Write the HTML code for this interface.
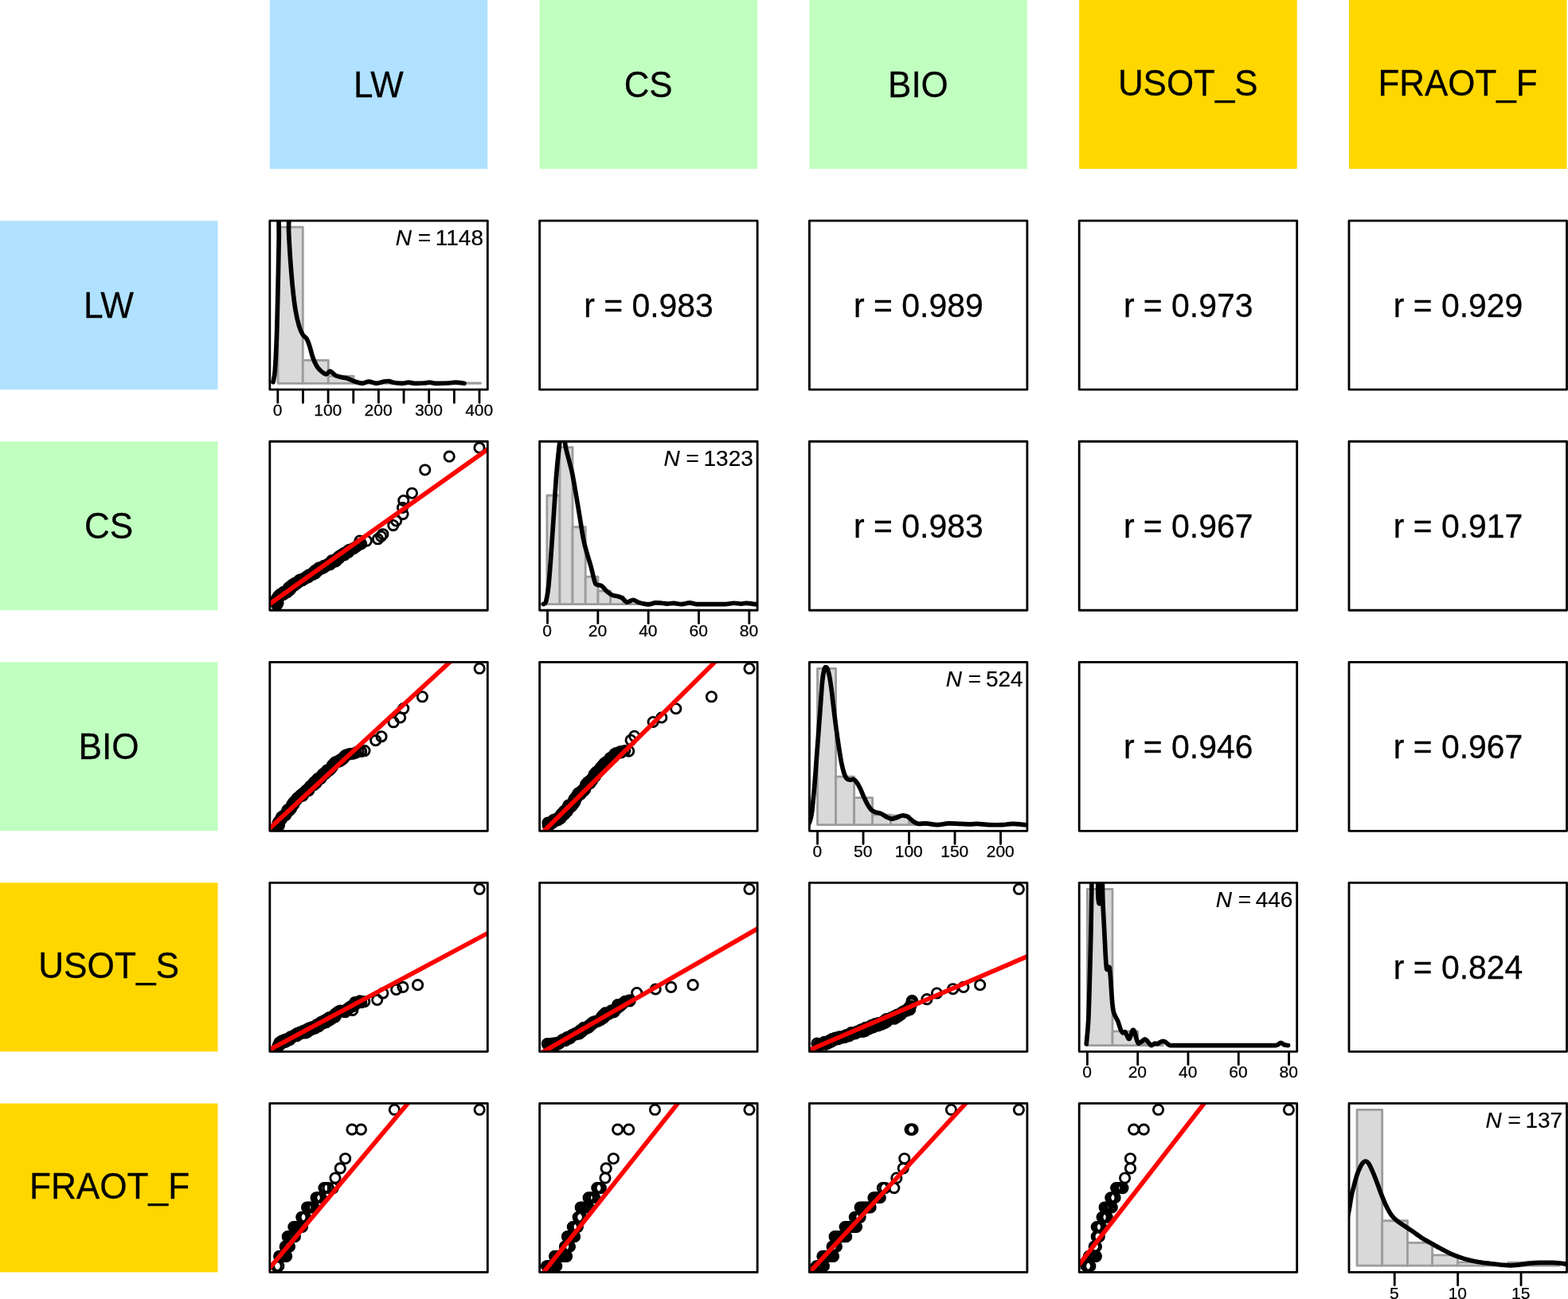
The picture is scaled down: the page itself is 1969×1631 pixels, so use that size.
<!DOCTYPE html>
<html lang="en"><head><meta charset="utf-8"><title>Scatterplot matrix</title>
<style>html,body{margin:0;padding:0;background:#fff}svg{display:block}text{font-family:"Liberation Sans",sans-serif;fill:#000;stroke:#000;stroke-width:.3px}.c circle{fill:none;stroke:#000;stroke-width:2.84}.b{fill:none;stroke:#000;stroke-width:2.84;stroke-linejoin:round}.h rect{fill:#D9D9D9;stroke:#9C9C9C;stroke-width:2.84;stroke-linejoin:round}.d{fill:none;stroke:#000;stroke-width:5.68;stroke-linejoin:round;stroke-linecap:round}.r{stroke:#f00;stroke-width:5.68}.t line{stroke:#000;stroke-width:2.84;stroke-linecap:round}.t text{font-size:21px;text-anchor:middle;stroke-width:.25px}.n{font-size:28px;text-anchor:end;stroke-width:.2px}.v{font-size:42px;text-anchor:middle}.l{font-size:46px;text-anchor:middle}</style>
</head><body>
<svg width="1969" height="1631" viewBox="0 0 1969 1631" role="img" aria-label="Scatterplot matrix of LW, CS, BIO, USOT_S and FRAOT_F">
<rect width="1969" height="1631" fill="#fff"/>
<rect x="338.8" y="0" width="273.5" height="212" fill="#B0E2FF"/>
<text class="l" transform="translate(475.35,121.8) scale(.955,1)">LW</text>
<rect x="0" y="277.2" width="273.5" height="212" fill="#B0E2FF"/>
<text class="l" transform="translate(136.55,399) scale(.96,1)">LW</text>
<rect x="677.6" y="0" width="273.5" height="212" fill="#C1FFC1"/>
<text class="l" transform="translate(814.15,121.8) scale(.955,1)">CS</text>
<rect x="0" y="554.25" width="273.5" height="212" fill="#C1FFC1"/>
<text class="l" transform="translate(136.55,676.05) scale(.96,1)">CS</text>
<rect x="1016.4" y="0" width="273.5" height="212" fill="#C1FFC1"/>
<text class="l" transform="translate(1152.95,121.8) scale(.955,1)">BIO</text>
<rect x="0" y="831.3" width="273.5" height="212" fill="#C1FFC1"/>
<text class="l" transform="translate(136.55,953.1) scale(.96,1)">BIO</text>
<rect x="1355.2" y="0" width="273.5" height="212" fill="#FFD700"/>
<text class="l" transform="translate(1491.75,120.1) scale(.955,1)">USOT_S</text>
<rect x="0" y="1108.35" width="273.5" height="212" fill="#FFD700"/>
<text class="l" transform="translate(136.55,1228.45) scale(.96,1)">USOT_S</text>
<rect x="1694" y="0" width="273.5" height="212" fill="#FFD700"/>
<text class="l" transform="translate(1830.55,120.1) scale(.955,1)">FRAOT_F</text>
<rect x="0" y="1385.4" width="273.5" height="212" fill="#FFD700"/>
<text class="l" transform="translate(137.55,1504.9) scale(.96,1)">FRAOT_F</text>
<text class="v" transform="translate(814.55,397.5) scale(.974,1)">r = 0.983</text>
<text class="v" transform="translate(1153.35,397.5) scale(.974,1)">r = 0.989</text>
<text class="v" transform="translate(1492.15,397.5) scale(.974,1)">r = 0.973</text>
<text class="v" transform="translate(1830.95,397.5) scale(.974,1)">r = 0.929</text>
<text class="v" transform="translate(1153.35,674.55) scale(.974,1)">r = 0.983</text>
<text class="v" transform="translate(1492.15,674.55) scale(.974,1)">r = 0.967</text>
<text class="v" transform="translate(1830.95,674.55) scale(.974,1)">r = 0.917</text>
<text class="v" transform="translate(1492.15,951.6) scale(.974,1)">r = 0.946</text>
<text class="v" transform="translate(1830.95,951.6) scale(.974,1)">r = 0.967</text>
<text class="v" transform="translate(1830.95,1228.65) scale(.974,1)">r = 0.824</text>
<svg x="338.8" y="554.25" width="273.5" height="212" viewBox="338.8 554.25 273.5 212">
<g class="c">
<circle cx="601.97" cy="562.22" r="6.15"/><circle cx="564.18" cy="573.19" r="6.15"/><circle cx="533.71" cy="589.95" r="6.15"/><circle cx="517.4" cy="619.2" r="6.15"/><circle cx="506.74" cy="628.49" r="6.15"/><circle cx="505.52" cy="637.48" r="6.15"/><circle cx="505.98" cy="645.56" r="6.15"/><circle cx="497.6" cy="653.94" r="6.15"/><circle cx="493.79" cy="659.58" r="6.15"/><circle cx="480.84" cy="670.7" r="6.15"/><circle cx="478.55" cy="673.44" r="6.15"/><circle cx="474.44" cy="676.79" r="6.15"/><circle cx="460.27" cy="679.08" r="6.15"/><circle cx="451.89" cy="679.08" r="6.15"/><circle cx="347.67" cy="759.46" r="6.15"/><circle cx="347.13" cy="758.12" r="6.15"/><circle cx="349.02" cy="756.94" r="6.15"/><circle cx="347.02" cy="755.51" r="6.15"/><circle cx="348.8" cy="754.33" r="6.15"/><circle cx="348.33" cy="752.97" r="6.15"/><circle cx="347.37" cy="751.56" r="6.15"/><circle cx="349.63" cy="750.7" r="6.15"/><circle cx="349.36" cy="748.59" r="6.15"/><circle cx="351.28" cy="748.68" r="6.15"/><circle cx="351.28" cy="746.83" r="6.15"/><circle cx="352.25" cy="745.97" r="6.15"/><circle cx="354.18" cy="746.01" r="6.15"/><circle cx="356.07" cy="746.47" r="6.15"/><circle cx="355.72" cy="743.65" r="6.15"/><circle cx="356.99" cy="743.21" r="6.15"/><circle cx="358.87" cy="743.57" r="6.15"/><circle cx="360.6" cy="743.6" r="6.15"/><circle cx="360.72" cy="741.74" r="6.15"/><circle cx="361.28" cy="740.4" r="6.15"/><circle cx="363.63" cy="741.14" r="6.15"/><circle cx="362.43" cy="737.75" r="6.15"/><circle cx="365.32" cy="739.12" r="6.15"/><circle cx="364.97" cy="736.72" r="6.15"/><circle cx="365.62" cy="735.48" r="6.15"/><circle cx="366.54" cy="734.56" r="6.15"/><circle cx="367.98" cy="734.23" r="6.15"/><circle cx="369.98" cy="734.92" r="6.15"/><circle cx="370" cy="732.29" r="6.15"/><circle cx="371.84" cy="732.91" r="6.15"/><circle cx="373.07" cy="732.46" r="6.15"/><circle cx="373.74" cy="730.98" r="6.15"/><circle cx="375.18" cy="730.9" r="6.15"/><circle cx="375.46" cy="728.74" r="6.15"/><circle cx="376.59" cy="728.09" r="6.15"/><circle cx="377.98" cy="727.91" r="6.15"/><circle cx="379.95" cy="728.77" r="6.15"/><circle cx="380.62" cy="727.34" r="6.15"/><circle cx="381.49" cy="726.3" r="6.15"/><circle cx="383.12" cy="726.42" r="6.15"/><circle cx="383.95" cy="725.32" r="6.15"/><circle cx="384.75" cy="724.15" r="6.15"/><circle cx="386.81" cy="724.95" r="6.15"/><circle cx="387.72" cy="723.96" r="6.15"/><circle cx="387.93" cy="721.88" r="6.15"/><circle cx="389.66" cy="722.18" r="6.15"/><circle cx="390.66" cy="721.33" r="6.15"/><circle cx="392.44" cy="721.69" r="6.15"/><circle cx="393.25" cy="720.54" r="6.15"/><circle cx="393.48" cy="718.5" r="6.15"/><circle cx="395.92" cy="719.89" r="6.15"/><circle cx="395.34" cy="716.58" r="6.15"/><circle cx="397.02" cy="716.79" r="6.15"/><circle cx="398.77" cy="717.11" r="6.15"/><circle cx="398.68" cy="714.57" r="6.15"/><circle cx="400.43" cy="714.89" r="6.15"/><circle cx="400.65" cy="712.83" r="6.15"/><circle cx="402.97" cy="714.03" r="6.15"/><circle cx="404.2" cy="713.66" r="6.15"/><circle cx="405.01" cy="712.42" r="6.15"/><circle cx="406.67" cy="712.75" r="6.15"/><circle cx="406.83" cy="710.35" r="6.15"/><circle cx="408.63" cy="710.92" r="6.15"/><circle cx="409.59" cy="709.98" r="6.15"/><circle cx="410.71" cy="709.3" r="6.15"/><circle cx="411.63" cy="708.28" r="6.15"/><circle cx="413.43" cy="708.86" r="6.15"/><circle cx="414.75" cy="708.56" r="6.15"/><circle cx="415.07" cy="706.45" r="6.15"/><circle cx="416.54" cy="706.39" r="6.15"/><circle cx="416.57" cy="703.86" r="6.15"/><circle cx="418.86" cy="705.21" r="6.15"/><circle cx="419.88" cy="704.39" r="6.15"/><circle cx="421.63" cy="704.81" r="6.15"/><circle cx="422.45" cy="703.63" r="6.15"/><circle cx="422.6" cy="701.3" r="6.15"/><circle cx="423.91" cy="700.97" r="6.15"/><circle cx="425.54" cy="701.18" r="6.15"/><circle cx="425.55" cy="698.59" r="6.15"/><circle cx="427.37" cy="699.16" r="6.15"/><circle cx="427.91" cy="697.6" r="6.15"/><circle cx="428.94" cy="696.71" r="6.15"/><circle cx="429.98" cy="695.79" r="6.15"/><circle cx="432.42" cy="696.78" r="6.15"/><circle cx="432.52" cy="694.35" r="6.15"/><circle cx="434" cy="693.78" r="6.15"/><circle cx="435.56" cy="693.2" r="6.15"/><circle cx="437.69" cy="693.31" r="6.15"/><circle cx="437.97" cy="690.56" r="6.15"/><circle cx="440.1" cy="690.29" r="6.15"/><circle cx="441.93" cy="689.34" r="6.15"/><circle cx="444.18" cy="688.72" r="6.15"/><circle cx="446.07" cy="687.22" r="6.15"/><circle cx="448.28" cy="685.76" r="6.15"/><circle cx="450.35" cy="683.49" r="6.15"/><circle cx="453.59" cy="682.87" r="6.15"/>
</g>
<line class="r" x1="326.35" y1="767.06" x2="624.45" y2="555.63"/>
</svg>
<svg x="338.8" y="831.3" width="273.5" height="212" viewBox="338.8 831.3 273.5 212">
<g class="c">
<circle cx="602.12" cy="839.3" r="6.15"/><circle cx="530.36" cy="874.8" r="6.15"/><circle cx="506.74" cy="889.58" r="6.15"/><circle cx="502.63" cy="901.01" r="6.15"/><circle cx="494.09" cy="906.8" r="6.15"/><circle cx="479.01" cy="924.78" r="6.15"/><circle cx="471.7" cy="929.65" r="6.15"/><circle cx="457.98" cy="942.6" r="6.15"/><circle cx="453.41" cy="943.37" r="6.15"/><circle cx="347.93" cy="1037.85" r="6.15"/><circle cx="349.78" cy="1037.19" r="6.15"/><circle cx="350.46" cy="1036.06" r="6.15"/><circle cx="348.84" cy="1034.02" r="6.15"/><circle cx="349.39" cy="1032.84" r="6.15"/><circle cx="350.21" cy="1031.6" r="6.15"/><circle cx="350.95" cy="1030.53" r="6.15"/><circle cx="352.27" cy="1029.86" r="6.15"/><circle cx="353.25" cy="1028.96" r="6.15"/><circle cx="353.23" cy="1027.37" r="6.15"/><circle cx="353.45" cy="1025.79" r="6.15"/><circle cx="355.17" cy="1025.53" r="6.15"/><circle cx="355.89" cy="1024.44" r="6.15"/><circle cx="357.15" cy="1023.79" r="6.15"/><circle cx="358.81" cy="1023.48" r="6.15"/><circle cx="359.07" cy="1022.01" r="6.15"/><circle cx="359.52" cy="1020.69" r="6.15"/><circle cx="360.57" cy="1019.87" r="6.15"/><circle cx="361.53" cy="1018.97" r="6.15"/><circle cx="361.01" cy="1016.86" r="6.15"/><circle cx="363.66" cy="1017.37" r="6.15"/><circle cx="364.23" cy="1016.15" r="6.15"/><circle cx="365.27" cy="1015.32" r="6.15"/><circle cx="365.93" cy="1014.18" r="6.15"/><circle cx="365.88" cy="1012.46" r="6.15"/><circle cx="366.73" cy="1011.47" r="6.15"/><circle cx="366.92" cy="1009.94" r="6.15"/><circle cx="368.89" cy="1009.88" r="6.15"/><circle cx="368.48" cy="1007.86" r="6.15"/><circle cx="369.32" cy="1006.87" r="6.15"/><circle cx="370.46" cy="1006.12" r="6.15"/><circle cx="371.18" cy="1005.03" r="6.15"/><circle cx="372.4" cy="1004.35" r="6.15"/><circle cx="372.79" cy="1002.78" r="6.15"/><circle cx="373.64" cy="1001.79" r="6.15"/><circle cx="374.88" cy="1001.21" r="6.15"/><circle cx="375.74" cy="1000.23" r="6.15"/><circle cx="377.19" cy="999.88" r="6.15"/><circle cx="377.5" cy="998.3" r="6.15"/><circle cx="380.07" cy="999.16" r="6.15"/><circle cx="380.53" cy="997.74" r="6.15"/><circle cx="380.6" cy="995.9" r="6.15"/><circle cx="381.75" cy="995.23" r="6.15"/><circle cx="382.88" cy="994.54" r="6.15"/><circle cx="383.87" cy="993.69" r="6.15"/><circle cx="384.36" cy="992.31" r="6.15"/><circle cx="386.7" cy="992.92" r="6.15"/><circle cx="387.92" cy="992.33" r="6.15"/><circle cx="387.87" cy="990.37" r="6.15"/><circle cx="388.84" cy="989.5" r="6.15"/><circle cx="388.98" cy="987.79" r="6.15"/><circle cx="389.93" cy="986.91" r="6.15"/><circle cx="391.33" cy="986.47" r="6.15"/><circle cx="392.1" cy="985.4" r="6.15"/><circle cx="394.13" cy="985.6" r="6.15"/><circle cx="393.74" cy="983.36" r="6.15"/><circle cx="394.39" cy="982.17" r="6.15"/><circle cx="397.14" cy="983.1" r="6.15"/><circle cx="397.23" cy="981.34" r="6.15"/><circle cx="397.4" cy="979.67" r="6.15"/><circle cx="399.1" cy="979.54" r="6.15"/><circle cx="399" cy="977.6" r="6.15"/><circle cx="400.92" cy="977.68" r="6.15"/><circle cx="402.73" cy="977.66" r="6.15"/><circle cx="403.42" cy="976.51" r="6.15"/><circle cx="404.01" cy="975.27" r="6.15"/><circle cx="404.11" cy="973.49" r="6.15"/><circle cx="405.25" cy="972.81" r="6.15"/><circle cx="405.81" cy="971.51" r="6.15"/><circle cx="407.92" cy="971.84" r="6.15"/><circle cx="408.39" cy="970.45" r="6.15"/><circle cx="409.81" cy="970.05" r="6.15"/><circle cx="409.88" cy="968.25" r="6.15"/><circle cx="410.62" cy="967.13" r="6.15"/><circle cx="412.7" cy="967.43" r="6.15"/><circle cx="413.97" cy="966.88" r="6.15"/><circle cx="414.66" cy="965.72" r="6.15"/><circle cx="415.51" cy="964.73" r="6.15"/><circle cx="416.47" cy="963.85" r="6.15"/><circle cx="417.26" cy="962.8" r="6.15"/><circle cx="417.21" cy="960.86" r="6.15"/><circle cx="418.71" cy="960.55" r="6.15"/><circle cx="419.47" cy="959.4" r="6.15"/><circle cx="419.98" cy="957.92" r="6.15"/><circle cx="421.05" cy="957.15" r="6.15"/><circle cx="422.51" cy="956.9" r="6.15"/><circle cx="423.57" cy="956.06" r="6.15"/><circle cx="425.32" cy="956.11" r="6.15"/><circle cx="426.82" cy="955.77" r="6.15"/><circle cx="427.24" cy="953.92" r="6.15"/><circle cx="429.11" cy="953.92" r="6.15"/><circle cx="430.41" cy="953.06" r="6.15"/><circle cx="431.65" cy="952" r="6.15"/><circle cx="432.25" cy="949.95" r="6.15"/><circle cx="433.53" cy="948.65" r="6.15"/><circle cx="435.48" cy="947.92" r="6.15"/><circle cx="437.4" cy="947.22" r="6.15"/><circle cx="439.5" cy="946.54" r="6.15"/><circle cx="441.99" cy="946.45" r="6.15"/><circle cx="444.58" cy="946" r="6.15"/><circle cx="447.24" cy="944.94" r="6.15"/><circle cx="450.11" cy="943.57" r="6.15"/><circle cx="453.65" cy="943.35" r="6.15"/>
</g>
<line class="r" x1="329.15" y1="1048.79" x2="574.45" y2="822.41"/>
</svg>
<svg x="677.6" y="831.3" width="273.5" height="212" viewBox="677.6 831.3 273.5 212">
<g class="c">
<circle cx="940.97" cy="839.3" r="6.15"/><circle cx="893.43" cy="874.8" r="6.15"/><circle cx="848.79" cy="889.73" r="6.15"/><circle cx="830.81" cy="901.01" r="6.15"/><circle cx="820.14" cy="906.49" r="6.15"/><circle cx="796.68" cy="924.32" r="6.15"/><circle cx="792.11" cy="929.35" r="6.15"/><circle cx="789.67" cy="943.06" r="6.15"/><circle cx="780.22" cy="944.89" r="6.15"/><circle cx="688.2" cy="1036.24" r="6.15"/><circle cx="687.9" cy="1033.11" r="6.15"/><circle cx="690.17" cy="1034.46" r="6.15"/><circle cx="691.8" cy="1034.68" r="6.15"/><circle cx="692.67" cy="1033.59" r="6.15"/><circle cx="693.75" cy="1032.82" r="6.15"/><circle cx="694.3" cy="1031.22" r="6.15"/><circle cx="694.8" cy="1029.52" r="6.15"/><circle cx="697.17" cy="1030.94" r="6.15"/><circle cx="697.35" cy="1028.71" r="6.15"/><circle cx="699.43" cy="1029.65" r="6.15"/><circle cx="700.89" cy="1029.56" r="6.15"/><circle cx="700.82" cy="1026.92" r="6.15"/><circle cx="701.95" cy="1026.27" r="6.15"/><circle cx="704.19" cy="1027.47" r="6.15"/><circle cx="704.84" cy="1026.04" r="6.15"/><circle cx="704.23" cy="1023.46" r="6.15"/><circle cx="704.93" cy="1022.35" r="6.15"/><circle cx="705.84" cy="1021.42" r="6.15"/><circle cx="708.99" cy="1022.35" r="6.15"/><circle cx="709.52" cy="1021.1" r="6.15"/><circle cx="708.33" cy="1018.41" r="6.15"/><circle cx="711.25" cy="1019.16" r="6.15"/><circle cx="712.55" cy="1018.55" r="6.15"/><circle cx="712.39" cy="1016.73" r="6.15"/><circle cx="712.3" cy="1014.95" r="6.15"/><circle cx="713.75" cy="1014.48" r="6.15"/><circle cx="713.34" cy="1012.41" r="6.15"/><circle cx="713.84" cy="1011.12" r="6.15"/><circle cx="717.58" cy="1012.63" r="6.15"/><circle cx="717.46" cy="1010.81" r="6.15"/><circle cx="717.94" cy="1009.5" r="6.15"/><circle cx="720.02" cy="1009.59" r="6.15"/><circle cx="719.35" cy="1007.29" r="6.15"/><circle cx="721.54" cy="1007.29" r="6.15"/><circle cx="722.15" cy="1006.13" r="6.15"/><circle cx="720.9" cy="1003.64" r="6.15"/><circle cx="721.79" cy="1002.68" r="6.15"/><circle cx="722.69" cy="1001.71" r="6.15"/><circle cx="723.27" cy="1000.54" r="6.15"/><circle cx="725.15" cy="1000.29" r="6.15"/><circle cx="724.85" cy="998.47" r="6.15"/><circle cx="726.13" cy="997.78" r="6.15"/><circle cx="725.95" cy="996.06" r="6.15"/><circle cx="729.2" cy="997.08" r="6.15"/><circle cx="728.48" cy="994.6" r="6.15"/><circle cx="729.68" cy="993.95" r="6.15"/><circle cx="730.94" cy="993.35" r="6.15"/><circle cx="732.77" cy="993.29" r="6.15"/><circle cx="732.26" cy="991.02" r="6.15"/><circle cx="734.6" cy="991.45" r="6.15"/><circle cx="734.29" cy="989.36" r="6.15"/><circle cx="735.26" cy="988.48" r="6.15"/><circle cx="736.09" cy="987.48" r="6.15"/><circle cx="735.43" cy="985.17" r="6.15"/><circle cx="737.55" cy="985.31" r="6.15"/><circle cx="737.63" cy="983.65" r="6.15"/><circle cx="737.95" cy="982.2" r="6.15"/><circle cx="741.2" cy="983.32" r="6.15"/><circle cx="740.17" cy="980.69" r="6.15"/><circle cx="741.93" cy="980.5" r="6.15"/><circle cx="743.57" cy="980.08" r="6.15"/><circle cx="743.76" cy="978.62" r="6.15"/><circle cx="743.74" cy="977.03" r="6.15"/><circle cx="745.11" cy="976.4" r="6.15"/><circle cx="745.97" cy="975.41" r="6.15"/><circle cx="747.46" cy="974.86" r="6.15"/><circle cx="745.97" cy="972.25" r="6.15"/><circle cx="748.2" cy="972.21" r="6.15"/><circle cx="747.92" cy="970.44" r="6.15"/><circle cx="748.75" cy="969.43" r="6.15"/><circle cx="751.06" cy="969.56" r="6.15"/><circle cx="751.08" cy="967.89" r="6.15"/><circle cx="752.07" cy="967.02" r="6.15"/><circle cx="753.51" cy="966.53" r="6.15"/><circle cx="754.81" cy="965.91" r="6.15"/><circle cx="754.19" cy="963.72" r="6.15"/><circle cx="755.54" cy="963.14" r="6.15"/><circle cx="756.04" cy="961.87" r="6.15"/><circle cx="756.88" cy="960.88" r="6.15"/><circle cx="758.25" cy="960.31" r="6.15"/><circle cx="758.54" cy="958.83" r="6.15"/><circle cx="759.76" cy="958.19" r="6.15"/><circle cx="760.66" cy="957.15" r="6.15"/><circle cx="762.77" cy="957.46" r="6.15"/><circle cx="763.31" cy="955.88" r="6.15"/><circle cx="764.81" cy="955.34" r="6.15"/><circle cx="766.1" cy="954.46" r="6.15"/><circle cx="765.94" cy="951.77" r="6.15"/><circle cx="767.84" cy="951.38" r="6.15"/><circle cx="769.94" cy="951.05" r="6.15"/><circle cx="771.19" cy="949.55" r="6.15"/><circle cx="771.55" cy="946.77" r="6.15"/><circle cx="773.77" cy="945.53" r="6.15"/><circle cx="776.33" cy="945.52" r="6.15"/><circle cx="778.59" cy="943.9" r="6.15"/><circle cx="781.62" cy="943.46" r="6.15"/><circle cx="784.79" cy="942.54" r="6.15"/>
</g>
<line class="r" x1="673.57" y1="1052.95" x2="908.21" y2="820.83"/>
</svg>
<svg x="338.8" y="1108.35" width="273.5" height="212" viewBox="338.8 1108.35 273.5 212">
<g class="c">
<circle cx="602.12" cy="1116.3" r="6.15"/><circle cx="524.57" cy="1236.67" r="6.15"/><circle cx="505.98" cy="1239.41" r="6.15"/><circle cx="497.6" cy="1242.46" r="6.15"/><circle cx="480.84" cy="1247.03" r="6.15"/><circle cx="473.68" cy="1255.41" r="6.15"/><circle cx="457.68" cy="1257.69" r="6.15"/><circle cx="451.89" cy="1256.93" r="6.15"/><circle cx="445.79" cy="1258.46" r="6.15"/><circle cx="442.75" cy="1268.36" r="6.15"/><circle cx="433.61" cy="1270.64" r="6.15"/><circle cx="348.9" cy="1313.11" r="6.15"/><circle cx="350.19" cy="1312.65" r="6.15"/><circle cx="351.48" cy="1312.19" r="6.15"/><circle cx="350.76" cy="1309.16" r="6.15"/><circle cx="353.1" cy="1310.04" r="6.15"/><circle cx="354" cy="1309.08" r="6.15"/><circle cx="354.13" cy="1306.72" r="6.15"/><circle cx="356.54" cy="1308.67" r="6.15"/><circle cx="357.85" cy="1308.38" r="6.15"/><circle cx="357.76" cy="1305.26" r="6.15"/><circle cx="360.16" cy="1307.18" r="6.15"/><circle cx="360.39" cy="1304.71" r="6.15"/><circle cx="361.71" cy="1304.44" r="6.15"/><circle cx="363.67" cy="1305.67" r="6.15"/><circle cx="364.62" cy="1304.6" r="6.15"/><circle cx="364.78" cy="1301.74" r="6.15"/><circle cx="366.39" cy="1302.16" r="6.15"/><circle cx="367.71" cy="1301.93" r="6.15"/><circle cx="368.63" cy="1300.79" r="6.15"/><circle cx="369.6" cy="1299.77" r="6.15"/><circle cx="370.98" cy="1299.68" r="6.15"/><circle cx="372.78" cy="1300.56" r="6.15"/><circle cx="372.92" cy="1297.59" r="6.15"/><circle cx="374.91" cy="1298.94" r="6.15"/><circle cx="375.94" cy="1298.03" r="6.15"/><circle cx="376.5" cy="1296.05" r="6.15"/><circle cx="378.16" cy="1296.63" r="6.15"/><circle cx="379.79" cy="1297.14" r="6.15"/><circle cx="380.82" cy="1296.23" r="6.15"/><circle cx="381.34" cy="1294.15" r="6.15"/><circle cx="383.92" cy="1296.86" r="6.15"/><circle cx="384.82" cy="1295.66" r="6.15"/><circle cx="386.33" cy="1295.72" r="6.15"/><circle cx="386.09" cy="1292.18" r="6.15"/><circle cx="387.53" cy="1292.18" r="6.15"/><circle cx="388.34" cy="1290.85" r="6.15"/><circle cx="390.72" cy="1292.83" r="6.15"/><circle cx="391.06" cy="1290.53" r="6.15"/><circle cx="392.01" cy="1289.49" r="6.15"/><circle cx="393.66" cy="1289.93" r="6.15"/><circle cx="395.63" cy="1291.06" r="6.15"/><circle cx="396.7" cy="1290.15" r="6.15"/><circle cx="396.85" cy="1287.66" r="6.15"/><circle cx="397.8" cy="1286.68" r="6.15"/><circle cx="400.32" cy="1288.66" r="6.15"/><circle cx="400.85" cy="1286.88" r="6.15"/><circle cx="402.23" cy="1286.7" r="6.15"/><circle cx="402.29" cy="1284.04" r="6.15"/><circle cx="403.38" cy="1283.33" r="6.15"/><circle cx="405.65" cy="1284.84" r="6.15"/><circle cx="406.33" cy="1283.34" r="6.15"/><circle cx="406.78" cy="1281.58" r="6.15"/><circle cx="409.58" cy="1283.74" r="6.15"/><circle cx="410.1" cy="1282.08" r="6.15"/><circle cx="411.55" cy="1281.96" r="6.15"/><circle cx="411.26" cy="1278.95" r="6.15"/><circle cx="413.88" cy="1280.81" r="6.15"/><circle cx="413.46" cy="1277.57" r="6.15"/><circle cx="416.13" cy="1279.5" r="6.15"/><circle cx="416.45" cy="1277.5" r="6.15"/><circle cx="417.34" cy="1276.46" r="6.15"/><circle cx="418.88" cy="1276.49" r="6.15"/><circle cx="420.77" cy="1276.89" r="6.15"/><circle cx="420.38" cy="1274.09" r="6.15"/><circle cx="421.14" cy="1272.91" r="6.15"/><circle cx="423.07" cy="1273.39" r="6.15"/><circle cx="423.5" cy="1271.74" r="6.15"/><circle cx="424.27" cy="1270.59" r="6.15"/><circle cx="425.45" cy="1270" r="6.15"/><circle cx="427.1" cy="1269.06" r="6.15"/><circle cx="428.5" cy="1269.38" r="6.15"/><circle cx="429.87" cy="1269.54" r="6.15"/><circle cx="431.18" cy="1269.27" r="6.15"/><circle cx="432.82" cy="1270.52" r="6.15"/><circle cx="433.66" cy="1268.8" r="6.15"/><circle cx="435.26" cy="1268.6" r="6.15"/><circle cx="436.01" cy="1266.95" r="6.15"/><circle cx="437.64" cy="1266.54" r="6.15"/><circle cx="438.57" cy="1264.86" r="6.15"/><circle cx="440.47" cy="1264.48" r="6.15"/><circle cx="441.67" cy="1262.95" r="6.15"/><circle cx="444.45" cy="1263.16" r="6.15"/><circle cx="446.01" cy="1261.42" r="6.15"/><circle cx="447.56" cy="1259.27" r="6.15"/><circle cx="450.42" cy="1258.51" r="6.15"/><circle cx="453.71" cy="1258.65" r="6.15"/>
</g>
<line class="r" x1="326.77" y1="1324.22" x2="624.43" y2="1165.28"/>
</svg>
<svg x="677.6" y="1108.35" width="273.5" height="212" viewBox="677.6 1108.35 273.5 212">
<g class="c">
<circle cx="940.97" cy="1116.3" r="6.15"/><circle cx="870.12" cy="1236.67" r="6.15"/><circle cx="842.69" cy="1239.41" r="6.15"/><circle cx="823.19" cy="1242" r="6.15"/><circle cx="799.73" cy="1246.57" r="6.15"/><circle cx="790.89" cy="1256.93" r="6.15"/><circle cx="784.79" cy="1257.69" r="6.15"/><circle cx="775.65" cy="1261.5" r="6.15"/><circle cx="771.08" cy="1270.64" r="6.15"/><circle cx="687.22" cy="1310.55" r="6.15"/><circle cx="689.16" cy="1312.85" r="6.15"/><circle cx="690.05" cy="1311.1" r="6.15"/><circle cx="691.37" cy="1311" r="6.15"/><circle cx="692.95" cy="1311.93" r="6.15"/><circle cx="693.87" cy="1310.1" r="6.15"/><circle cx="695.21" cy="1310.4" r="6.15"/><circle cx="696.58" cy="1310.95" r="6.15"/><circle cx="697.99" cy="1311.93" r="6.15"/><circle cx="699.03" cy="1309.37" r="6.15"/><circle cx="700.51" cy="1311.09" r="6.15"/><circle cx="701.9" cy="1310.16" r="6.15"/><circle cx="703.01" cy="1309.42" r="6.15"/><circle cx="703.88" cy="1308.11" r="6.15"/><circle cx="705" cy="1307.42" r="6.15"/><circle cx="705.78" cy="1305.9" r="6.15"/><circle cx="707.09" cy="1305.67" r="6.15"/><circle cx="707.9" cy="1305.02" r="6.15"/><circle cx="710.37" cy="1306.45" r="6.15"/><circle cx="710.46" cy="1304.2" r="6.15"/><circle cx="711.37" cy="1303.2" r="6.15"/><circle cx="712.3" cy="1302.25" r="6.15"/><circle cx="714.95" cy="1303.96" r="6.15"/><circle cx="716.1" cy="1303.35" r="6.15"/><circle cx="716.74" cy="1302.13" r="6.15"/><circle cx="717.32" cy="1300.26" r="6.15"/><circle cx="718.45" cy="1299.59" r="6.15"/><circle cx="719.71" cy="1299.23" r="6.15"/><circle cx="721.16" cy="1299.28" r="6.15"/><circle cx="721.88" cy="1297.7" r="6.15"/><circle cx="723.47" cy="1298.17" r="6.15"/><circle cx="724.12" cy="1296.85" r="6.15"/><circle cx="726.72" cy="1298.26" r="6.15"/><circle cx="727.8" cy="1297.55" r="6.15"/><circle cx="727.93" cy="1295.47" r="6.15"/><circle cx="728.32" cy="1293.78" r="6.15"/><circle cx="730.97" cy="1295.26" r="6.15"/><circle cx="730.58" cy="1292.48" r="6.15"/><circle cx="732.04" cy="1292.11" r="6.15"/><circle cx="732.84" cy="1290.41" r="6.15"/><circle cx="734.54" cy="1291.36" r="6.15"/><circle cx="735.88" cy="1291.28" r="6.15"/><circle cx="737.15" cy="1290.97" r="6.15"/><circle cx="738.01" cy="1289.47" r="6.15"/><circle cx="739.48" cy="1289.88" r="6.15"/><circle cx="739.3" cy="1287.59" r="6.15"/><circle cx="740.93" cy="1287.54" r="6.15"/><circle cx="741.53" cy="1286.21" r="6.15"/><circle cx="743.28" cy="1286.31" r="6.15"/><circle cx="743.44" cy="1284.44" r="6.15"/><circle cx="744.41" cy="1283.57" r="6.15"/><circle cx="746.14" cy="1283.57" r="6.15"/><circle cx="747.04" cy="1282.6" r="6.15"/><circle cx="748.88" cy="1282.94" r="6.15"/><circle cx="749.81" cy="1282.01" r="6.15"/><circle cx="751.36" cy="1281.94" r="6.15"/><circle cx="752.22" cy="1280.9" r="6.15"/><circle cx="753.4" cy="1280.33" r="6.15"/><circle cx="754.82" cy="1280.08" r="6.15"/><circle cx="754.74" cy="1277.77" r="6.15"/><circle cx="755.6" cy="1276.77" r="6.15"/><circle cx="758.18" cy="1277.9" r="6.15"/><circle cx="757.21" cy="1274.62" r="6.15"/><circle cx="759.59" cy="1275.51" r="6.15"/><circle cx="760.41" cy="1274.45" r="6.15"/><circle cx="760" cy="1271.86" r="6.15"/><circle cx="762.7" cy="1273.7" r="6.15"/><circle cx="763.97" cy="1273.36" r="6.15"/><circle cx="764.75" cy="1271.9" r="6.15"/><circle cx="766.09" cy="1271.71" r="6.15"/><circle cx="767.41" cy="1271.4" r="6.15"/><circle cx="767.69" cy="1268.73" r="6.15"/><circle cx="769.47" cy="1269.29" r="6.15"/><circle cx="770.54" cy="1268.34" r="6.15"/><circle cx="772.34" cy="1268.22" r="6.15"/><circle cx="773.48" cy="1267.14" r="6.15"/><circle cx="774.78" cy="1266.14" r="6.15"/><circle cx="775.69" cy="1264.49" r="6.15"/><circle cx="777.56" cy="1264.07" r="6.15"/><circle cx="779.01" cy="1262.54" r="6.15"/><circle cx="780.91" cy="1261.43" r="6.15"/><circle cx="782.48" cy="1259.29" r="6.15"/><circle cx="784.81" cy="1257.65" r="6.15"/><circle cx="787.75" cy="1256.75" r="6.15"/><circle cx="791.15" cy="1255.85" r="6.15"/>
</g>
<line class="r" x1="670.9" y1="1327.06" x2="964.2" y2="1158.62"/>
</svg>
<svg x="1016.4" y="1108.35" width="273.5" height="212" viewBox="1016.4 1108.35 273.5 212">
<g class="c">
<circle cx="1279.42" cy="1116.3" r="6.15"/><circle cx="1230.67" cy="1236.67" r="6.15"/><circle cx="1209.95" cy="1239.41" r="6.15"/><circle cx="1196.69" cy="1241.7" r="6.15"/><circle cx="1176.43" cy="1247.03" r="6.15"/><circle cx="1163.93" cy="1254.65" r="6.15"/><circle cx="1145.34" cy="1256.93" r="6.15"/><circle cx="1144.89" cy="1259.22" r="6.15"/><circle cx="1142.6" cy="1267.6" r="6.15"/><circle cx="1125.84" cy="1277.5" r="6.15"/><circle cx="1113.65" cy="1282.83" r="6.15"/><circle cx="1025.99" cy="1310.13" r="6.15"/><circle cx="1027.84" cy="1312.58" r="6.15"/><circle cx="1028.89" cy="1311.28" r="6.15"/><circle cx="1030.22" cy="1311.26" r="6.15"/><circle cx="1031.44" cy="1311.04" r="6.15"/><circle cx="1032.76" cy="1311.11" r="6.15"/><circle cx="1033.97" cy="1310.25" r="6.15"/><circle cx="1035.08" cy="1308.28" r="6.15"/><circle cx="1036.68" cy="1311.15" r="6.15"/><circle cx="1037.96" cy="1310.83" r="6.15"/><circle cx="1039.1" cy="1309.59" r="6.15"/><circle cx="1040.3" cy="1309.07" r="6.15"/><circle cx="1041.67" cy="1308.85" r="6.15"/><circle cx="1041.71" cy="1306.25" r="6.15"/><circle cx="1044.08" cy="1307.85" r="6.15"/><circle cx="1044.33" cy="1305.61" r="6.15"/><circle cx="1045.14" cy="1304.39" r="6.15"/><circle cx="1046.73" cy="1304.43" r="6.15"/><circle cx="1048.64" cy="1305.51" r="6.15"/><circle cx="1049.01" cy="1303.16" r="6.15"/><circle cx="1051.03" cy="1304.48" r="6.15"/><circle cx="1052.58" cy="1304.77" r="6.15"/><circle cx="1053.02" cy="1302.57" r="6.15"/><circle cx="1054.22" cy="1301.74" r="6.15"/><circle cx="1055.54" cy="1302.03" r="6.15"/><circle cx="1056.88" cy="1302.74" r="6.15"/><circle cx="1058.19" cy="1302.99" r="6.15"/><circle cx="1059.46" cy="1302.35" r="6.15"/><circle cx="1060.76" cy="1302.38" r="6.15"/><circle cx="1061.39" cy="1300.11" r="6.15"/><circle cx="1062.69" cy="1299.87" r="6.15"/><circle cx="1064.05" cy="1299.75" r="6.15"/><circle cx="1065.95" cy="1300.98" r="6.15"/><circle cx="1066.53" cy="1298.95" r="6.15"/><circle cx="1068.11" cy="1299.38" r="6.15"/><circle cx="1068.54" cy="1296.93" r="6.15"/><circle cx="1069.82" cy="1296.63" r="6.15"/><circle cx="1071.32" cy="1296.89" r="6.15"/><circle cx="1073.09" cy="1297.85" r="6.15"/><circle cx="1074.33" cy="1297.45" r="6.15"/><circle cx="1075.52" cy="1296.92" r="6.15"/><circle cx="1076.2" cy="1295.08" r="6.15"/><circle cx="1077.74" cy="1295.48" r="6.15"/><circle cx="1078.93" cy="1294.92" r="6.15"/><circle cx="1080.17" cy="1294.55" r="6.15"/><circle cx="1081.03" cy="1292.9" r="6.15"/><circle cx="1083.13" cy="1295.35" r="6.15"/><circle cx="1083.61" cy="1292.44" r="6.15"/><circle cx="1085.95" cy="1294.66" r="6.15"/><circle cx="1087.04" cy="1293.93" r="6.15"/><circle cx="1086.64" cy="1290.23" r="6.15"/><circle cx="1088.55" cy="1291.15" r="6.15"/><circle cx="1090.33" cy="1291.79" r="6.15"/><circle cx="1091.74" cy="1291.72" r="6.15"/><circle cx="1092.05" cy="1289.38" r="6.15"/><circle cx="1093.05" cy="1288.29" r="6.15"/><circle cx="1094.2" cy="1287.65" r="6.15"/><circle cx="1096.36" cy="1289.85" r="6.15"/><circle cx="1096.65" cy="1286.78" r="6.15"/><circle cx="1098.35" cy="1287.67" r="6.15"/><circle cx="1099.01" cy="1285.66" r="6.15"/><circle cx="1100.74" cy="1286.67" r="6.15"/><circle cx="1102.44" cy="1287.87" r="6.15"/><circle cx="1102.82" cy="1284.51" r="6.15"/><circle cx="1104.8" cy="1286.66" r="6.15"/><circle cx="1105.72" cy="1285.16" r="6.15"/><circle cx="1107.37" cy="1286.18" r="6.15"/><circle cx="1108.48" cy="1284.91" r="6.15"/><circle cx="1108.82" cy="1282.72" r="6.15"/><circle cx="1111.13" cy="1284.38" r="6.15"/><circle cx="1111.58" cy="1282.39" r="6.15"/><circle cx="1111.93" cy="1280.24" r="6.15"/><circle cx="1113.05" cy="1279.58" r="6.15"/><circle cx="1115.08" cy="1280.67" r="6.15"/><circle cx="1116.26" cy="1280.11" r="6.15"/><circle cx="1117.31" cy="1279.16" r="6.15"/><circle cx="1118.35" cy="1278.18" r="6.15"/><circle cx="1119.83" cy="1278.5" r="6.15"/><circle cx="1121.05" cy="1277.99" r="6.15"/><circle cx="1123.17" cy="1279.19" r="6.15"/><circle cx="1122.7" cy="1276.02" r="6.15"/><circle cx="1125.25" cy="1277.4" r="6.15"/><circle cx="1126.58" cy="1276.84" r="6.15"/><circle cx="1126.53" cy="1274.11" r="6.15"/><circle cx="1129.18" cy="1275.38" r="6.15"/><circle cx="1130.14" cy="1273.94" r="6.15"/><circle cx="1131.82" cy="1273.47" r="6.15"/><circle cx="1132.36" cy="1271.05" r="6.15"/><circle cx="1134.07" cy="1270.24" r="6.15"/><circle cx="1135.8" cy="1269.2" r="6.15"/><circle cx="1138.53" cy="1269.18" r="6.15"/><circle cx="1139.73" cy="1266.9" r="6.15"/><circle cx="1141.42" cy="1264.87" r="6.15"/><circle cx="1143.68" cy="1263.22" r="6.15"/><circle cx="1144.47" cy="1260.09" r="6.15"/><circle cx="1145.35" cy="1256.55" r="6.15"/>
</g>
<line class="r" x1="1002.19" y1="1324.5" x2="1302.52" y2="1195.45"/>
</svg>
<svg x="338.8" y="1385.4" width="273.5" height="212" viewBox="338.8 1385.4 273.5 212">
<g class="c">
<circle cx="349.81" cy="1589.7" r="6.15"/><circle cx="347.06" cy="1589.7" r="6.15"/><circle cx="350.57" cy="1577.36" r="6.15"/><circle cx="351.87" cy="1577.36" r="6.15"/><circle cx="353.18" cy="1577.36" r="6.15"/><circle cx="354.49" cy="1577.36" r="6.15"/><circle cx="355.79" cy="1577.36" r="6.15"/><circle cx="357.1" cy="1577.36" r="6.15"/><circle cx="358.4" cy="1577.36" r="6.15"/><circle cx="359.71" cy="1577.36" r="6.15"/><circle cx="358.19" cy="1565.17" r="6.15"/><circle cx="359.52" cy="1565.17" r="6.15"/><circle cx="360.85" cy="1565.17" r="6.15"/><circle cx="362.19" cy="1565.17" r="6.15"/><circle cx="363.52" cy="1565.17" r="6.15"/><circle cx="361.23" cy="1552.67" r="6.15"/><circle cx="363.06" cy="1552.67" r="6.15"/><circle cx="364.89" cy="1552.67" r="6.15"/><circle cx="366.72" cy="1552.67" r="6.15"/><circle cx="368.55" cy="1552.67" r="6.15"/><circle cx="370.38" cy="1552.67" r="6.15"/><circle cx="368.85" cy="1540.48" r="6.15"/><circle cx="370.63" cy="1540.48" r="6.15"/><circle cx="372.41" cy="1540.48" r="6.15"/><circle cx="374.18" cy="1540.48" r="6.15"/><circle cx="375.96" cy="1540.48" r="6.15"/><circle cx="377.74" cy="1540.48" r="6.15"/><circle cx="379.52" cy="1540.48" r="6.15"/><circle cx="378.76" cy="1528.3" r="6.15"/><circle cx="381.04" cy="1528.3" r="6.15"/><circle cx="383.33" cy="1528.3" r="6.15"/><circle cx="385.61" cy="1515.95" r="6.15"/><circle cx="387.71" cy="1515.95" r="6.15"/><circle cx="389.8" cy="1515.95" r="6.15"/><circle cx="391.9" cy="1515.95" r="6.15"/><circle cx="393.99" cy="1515.95" r="6.15"/><circle cx="397.04" cy="1503.76" r="6.15"/><circle cx="399.07" cy="1503.76" r="6.15"/><circle cx="401.1" cy="1503.76" r="6.15"/><circle cx="403.13" cy="1503.76" r="6.15"/><circle cx="406.94" cy="1491.58" r="6.15"/><circle cx="409.23" cy="1491.58" r="6.15"/><circle cx="412.28" cy="1491.58" r="6.15"/><circle cx="418.37" cy="1491.58" r="6.15"/><circle cx="420.96" cy="1479.08" r="6.15"/><circle cx="427.21" cy="1466.89" r="6.15"/><circle cx="433.61" cy="1454.7" r="6.15"/><circle cx="441.99" cy="1418.14" r="6.15"/><circle cx="453.41" cy="1418.14" r="6.15"/><circle cx="495.31" cy="1393.3" r="6.15"/><circle cx="602.12" cy="1393.3" r="6.15"/>
</g>
<line class="r" x1="330.18" y1="1602.15" x2="520.73" y2="1375.06"/>
</svg>
<svg x="677.6" y="1385.4" width="273.5" height="212" viewBox="677.6 1385.4 273.5 212">
<g class="c">
<circle cx="686.52" cy="1589.7" r="6.15"/><circle cx="687.88" cy="1589.7" r="6.15"/><circle cx="689.23" cy="1589.7" r="6.15"/><circle cx="690.58" cy="1589.7" r="6.15"/><circle cx="691.94" cy="1589.7" r="6.15"/><circle cx="693.29" cy="1589.7" r="6.15"/><circle cx="694.65" cy="1589.7" r="6.15"/><circle cx="696" cy="1589.7" r="6.15"/><circle cx="697.36" cy="1589.7" r="6.15"/><circle cx="698.71" cy="1589.7" r="6.15"/><circle cx="696.43" cy="1577.36" r="6.15"/><circle cx="697.81" cy="1577.36" r="6.15"/><circle cx="699.2" cy="1577.36" r="6.15"/><circle cx="700.58" cy="1577.36" r="6.15"/><circle cx="701.97" cy="1577.36" r="6.15"/><circle cx="703.35" cy="1577.36" r="6.15"/><circle cx="704.74" cy="1577.36" r="6.15"/><circle cx="706.12" cy="1577.36" r="6.15"/><circle cx="707.51" cy="1577.36" r="6.15"/><circle cx="708.89" cy="1577.36" r="6.15"/><circle cx="710.28" cy="1577.36" r="6.15"/><circle cx="711.66" cy="1577.36" r="6.15"/><circle cx="709.38" cy="1565.17" r="6.15"/><circle cx="710.9" cy="1565.17" r="6.15"/><circle cx="712.42" cy="1565.17" r="6.15"/><circle cx="713.95" cy="1565.17" r="6.15"/><circle cx="715.47" cy="1565.17" r="6.15"/><circle cx="712.42" cy="1552.67" r="6.15"/><circle cx="714.25" cy="1552.67" r="6.15"/><circle cx="716.08" cy="1552.67" r="6.15"/><circle cx="717.91" cy="1552.67" r="6.15"/><circle cx="719.74" cy="1552.67" r="6.15"/><circle cx="721.56" cy="1552.67" r="6.15"/><circle cx="719.28" cy="1540.48" r="6.15"/><circle cx="721.31" cy="1540.48" r="6.15"/><circle cx="723.34" cy="1540.48" r="6.15"/><circle cx="725.37" cy="1540.48" r="6.15"/><circle cx="726.14" cy="1528.3" r="6.15"/><circle cx="728.04" cy="1528.3" r="6.15"/><circle cx="729.94" cy="1528.3" r="6.15"/><circle cx="729.18" cy="1515.95" r="6.15"/><circle cx="731.66" cy="1515.95" r="6.15"/><circle cx="734.13" cy="1515.95" r="6.15"/><circle cx="736.61" cy="1515.95" r="6.15"/><circle cx="739.09" cy="1515.95" r="6.15"/><circle cx="739.09" cy="1503.76" r="6.15"/><circle cx="741.63" cy="1503.76" r="6.15"/><circle cx="744.17" cy="1503.76" r="6.15"/><circle cx="746.7" cy="1503.76" r="6.15"/><circle cx="749.75" cy="1491.58" r="6.15"/><circle cx="752.04" cy="1491.58" r="6.15"/><circle cx="754.32" cy="1491.58" r="6.15"/><circle cx="759.96" cy="1479.08" r="6.15"/><circle cx="761.18" cy="1466.89" r="6.15"/><circle cx="770.32" cy="1454.7" r="6.15"/><circle cx="775.65" cy="1418.14" r="6.15"/><circle cx="789.67" cy="1418.14" r="6.15"/><circle cx="822.43" cy="1393.3" r="6.15"/><circle cx="940.97" cy="1393.3" r="6.15"/>
</g>
<line class="r" x1="675.09" y1="1606.95" x2="859.45" y2="1374.83"/>
</svg>
<svg x="1016.4" y="1385.4" width="273.5" height="212" viewBox="1016.4 1385.4 273.5 212">
<g class="c">
<circle cx="1025.28" cy="1589.7" r="6.15"/><circle cx="1026.59" cy="1589.7" r="6.15"/><circle cx="1027.9" cy="1589.7" r="6.15"/><circle cx="1029.2" cy="1589.7" r="6.15"/><circle cx="1030.51" cy="1589.7" r="6.15"/><circle cx="1031.81" cy="1589.7" r="6.15"/><circle cx="1033.12" cy="1589.7" r="6.15"/><circle cx="1034.43" cy="1589.7" r="6.15"/><circle cx="1032.9" cy="1577.36" r="6.15"/><circle cx="1034.27" cy="1577.36" r="6.15"/><circle cx="1035.64" cy="1577.36" r="6.15"/><circle cx="1037.02" cy="1577.36" r="6.15"/><circle cx="1038.39" cy="1577.36" r="6.15"/><circle cx="1039.76" cy="1577.36" r="6.15"/><circle cx="1041.13" cy="1577.36" r="6.15"/><circle cx="1042.5" cy="1577.36" r="6.15"/><circle cx="1043.87" cy="1577.36" r="6.15"/><circle cx="1045.24" cy="1577.36" r="6.15"/><circle cx="1046.61" cy="1577.36" r="6.15"/><circle cx="1045.09" cy="1565.17" r="6.15"/><circle cx="1046.42" cy="1565.17" r="6.15"/><circle cx="1047.76" cy="1565.17" r="6.15"/><circle cx="1049.09" cy="1565.17" r="6.15"/><circle cx="1050.42" cy="1565.17" r="6.15"/><circle cx="1048.14" cy="1552.67" r="6.15"/><circle cx="1049.95" cy="1552.67" r="6.15"/><circle cx="1051.76" cy="1552.67" r="6.15"/><circle cx="1053.57" cy="1552.67" r="6.15"/><circle cx="1055.37" cy="1552.67" r="6.15"/><circle cx="1057.18" cy="1552.67" r="6.15"/><circle cx="1058.99" cy="1552.67" r="6.15"/><circle cx="1060.8" cy="1552.67" r="6.15"/><circle cx="1062.61" cy="1552.67" r="6.15"/><circle cx="1061.09" cy="1540.48" r="6.15"/><circle cx="1062.9" cy="1540.48" r="6.15"/><circle cx="1064.71" cy="1540.48" r="6.15"/><circle cx="1066.52" cy="1540.48" r="6.15"/><circle cx="1068.33" cy="1540.48" r="6.15"/><circle cx="1070.13" cy="1540.48" r="6.15"/><circle cx="1071.94" cy="1540.48" r="6.15"/><circle cx="1073.75" cy="1540.48" r="6.15"/><circle cx="1075.56" cy="1540.48" r="6.15"/><circle cx="1073.28" cy="1528.3" r="6.15"/><circle cx="1074.99" cy="1528.3" r="6.15"/><circle cx="1076.71" cy="1528.3" r="6.15"/><circle cx="1078.42" cy="1528.3" r="6.15"/><circle cx="1080.13" cy="1528.3" r="6.15"/><circle cx="1080.13" cy="1515.95" r="6.15"/><circle cx="1082.29" cy="1515.95" r="6.15"/><circle cx="1084.45" cy="1515.95" r="6.15"/><circle cx="1086.61" cy="1515.95" r="6.15"/><circle cx="1088.77" cy="1515.95" r="6.15"/><circle cx="1090.93" cy="1515.95" r="6.15"/><circle cx="1093.08" cy="1515.95" r="6.15"/><circle cx="1096.89" cy="1503.76" r="6.15"/><circle cx="1098.99" cy="1503.76" r="6.15"/><circle cx="1101.08" cy="1503.76" r="6.15"/><circle cx="1103.18" cy="1503.76" r="6.15"/><circle cx="1105.27" cy="1503.76" r="6.15"/><circle cx="1108.32" cy="1491.58" r="6.15"/><circle cx="1111.37" cy="1491.58" r="6.15"/><circle cx="1122.79" cy="1491.58" r="6.15"/><circle cx="1125.84" cy="1479.08" r="6.15"/><circle cx="1134.22" cy="1466.89" r="6.15"/><circle cx="1135.75" cy="1454.7" r="6.15"/><circle cx="1143.06" cy="1418.14" r="6.15"/><circle cx="1144.58" cy="1418.14" r="6.15"/><circle cx="1145.95" cy="1418.14" r="6.15"/><circle cx="1194.4" cy="1393.3" r="6.15"/><circle cx="1279.42" cy="1393.3" r="6.15"/>
</g>
<line class="r" x1="1007.91" y1="1606.95" x2="1222.44" y2="1374.83"/>
</svg>
<svg x="1355.2" y="1385.4" width="273.5" height="212" viewBox="1355.2 1385.4 273.5 212">
<g class="c">
<circle cx="1364.28" cy="1589.7" r="6.15"/><circle cx="1365.81" cy="1589.7" r="6.15"/><circle cx="1367.33" cy="1589.7" r="6.15"/><circle cx="1368.85" cy="1589.7" r="6.15"/><circle cx="1367.33" cy="1577.36" r="6.15"/><circle cx="1368.64" cy="1577.36" r="6.15"/><circle cx="1369.94" cy="1577.36" r="6.15"/><circle cx="1371.25" cy="1577.36" r="6.15"/><circle cx="1372.55" cy="1577.36" r="6.15"/><circle cx="1373.86" cy="1577.36" r="6.15"/><circle cx="1375.17" cy="1577.36" r="6.15"/><circle cx="1376.47" cy="1577.36" r="6.15"/><circle cx="1374.19" cy="1565.17" r="6.15"/><circle cx="1376.47" cy="1565.17" r="6.15"/><circle cx="1377.23" cy="1552.67" r="6.15"/><circle cx="1378.76" cy="1552.67" r="6.15"/><circle cx="1380.28" cy="1552.67" r="6.15"/><circle cx="1377.23" cy="1540.48" r="6.15"/><circle cx="1379.01" cy="1540.48" r="6.15"/><circle cx="1380.79" cy="1540.48" r="6.15"/><circle cx="1382.57" cy="1540.48" r="6.15"/><circle cx="1384.09" cy="1528.3" r="6.15"/><circle cx="1386.12" cy="1528.3" r="6.15"/><circle cx="1388.15" cy="1528.3" r="6.15"/><circle cx="1390.18" cy="1528.3" r="6.15"/><circle cx="1387.14" cy="1515.95" r="6.15"/><circle cx="1389.42" cy="1515.95" r="6.15"/><circle cx="1391.71" cy="1515.95" r="6.15"/><circle cx="1393.99" cy="1515.95" r="6.15"/><circle cx="1396.28" cy="1515.95" r="6.15"/><circle cx="1394.76" cy="1503.76" r="6.15"/><circle cx="1397.42" cy="1503.76" r="6.15"/><circle cx="1400.09" cy="1503.76" r="6.15"/><circle cx="1401.61" cy="1491.58" r="6.15"/><circle cx="1403.71" cy="1491.58" r="6.15"/><circle cx="1405.8" cy="1491.58" r="6.15"/><circle cx="1407.9" cy="1491.58" r="6.15"/><circle cx="1409.99" cy="1491.58" r="6.15"/><circle cx="1412.58" cy="1479.08" r="6.15"/><circle cx="1419.44" cy="1466.89" r="6.15"/><circle cx="1419.44" cy="1454.7" r="6.15"/><circle cx="1423.7" cy="1418.14" r="6.15"/><circle cx="1436.35" cy="1418.14" r="6.15"/><circle cx="1454.48" cy="1393.3" r="6.15"/><circle cx="1618.42" cy="1393.3" r="6.15"/>
</g>
<line class="r" x1="1346.98" y1="1598.15" x2="1519.94" y2="1375.25"/>
</svg>
<svg x="338.8" y="277.2" width="273.5" height="212" viewBox="338.8 277.2 273.5 212">
<g class="h">
<rect x="349.05" y="285.06" width="31.23" height="196.24"/>
<rect x="380.28" y="452.36" width="32" height="28.95"/>
<rect x="412.28" y="472.16" width="31.69" height="9.14"/>
<rect x="443.97" y="479.78" width="31.69" height="1.52"/>
<rect x="475.66" y="480.24" width="31.69" height="1.07"/>
<rect x="507.35" y="480.7" width="31.69" height="0.61"/>
<rect x="539.04" y="480.7" width="31.69" height="0.61"/>
<rect x="570.73" y="481" width="32.76" height="0.3"/>
</g>
<path class="d" d="M342.95 479.78C343.33 477.5 344.47 475.97 345.24 466.07C346 456.17 346.89 438.14 347.52 420.36C348.16 402.59 348.59 379.73 349.05 359.42C349.5 339.1 349.93 313.71 350.26 298.47C350.59 283.24 349.12 273.08 351.03 268C352.93 262.92 359.76 264.19 361.69 268C363.62 271.81 362.17 281.97 362.61 290.85C363.04 299.74 363.49 309.9 364.28 321.33C365.07 332.75 366.19 347.99 367.33 359.42C368.47 370.84 369.74 381.51 371.14 389.89C372.53 398.27 374.18 404.62 375.71 409.7C377.23 414.78 378.76 417.82 380.28 420.36C381.8 422.9 383.45 422.65 384.85 424.93C386.25 427.22 387.39 430.27 388.66 434.07C389.93 437.88 391.07 443.72 392.47 447.79C393.86 451.85 395.52 455.66 397.04 458.45C398.56 461.25 399.58 462.64 401.61 464.55C403.64 466.45 407.07 469.63 409.23 469.88C411.39 470.13 412.53 465.82 414.56 466.07C416.59 466.32 419 470.13 421.42 471.4C423.83 472.67 426.5 473.05 429.04 473.69C431.57 474.32 433.86 474.32 436.65 475.21C439.45 476.1 442.75 478.01 445.79 479.02C448.84 480.04 452.02 481.31 454.94 481.31C457.86 481.31 460.4 479.02 463.32 479.02C466.24 479.02 469.28 481.31 472.46 481.31C475.63 481.31 479.7 479.48 482.36 479.02C485.03 478.56 486.42 478.31 488.46 478.56C490.49 478.82 491.76 480.09 494.55 480.54C497.34 481 502.17 481.38 505.22 481.31C508.26 481.23 510.29 480.09 512.83 480.09C515.37 480.09 517.15 481.15 520.45 481.31C523.75 481.46 529.47 481.2 532.64 481C535.82 480.8 537.21 480.04 539.5 480.09C541.78 480.14 542.42 481.15 546.35 481.31C550.29 481.46 558.8 481.2 563.11 481C567.43 480.8 568.95 480.04 572.25 480.09C575.56 480.14 581.14 481.1 582.92 481.31"/>
</svg>
<text class="n" x="607" y="307.8"><tspan font-style="italic">N</tspan> = <tspan dx="-2.1">1148</tspan></text>
<g class="t">
<line x1="348.8" y1="489.2" x2="348.8" y2="505.5"/>
<text x="348.5" y="522.3">0</text>
<line x1="380.45" y1="489.2" x2="380.45" y2="505.5"/>
<line x1="412.1" y1="489.2" x2="412.1" y2="505.5"/>
<text x="411.8" y="522.3">100</text>
<line x1="443.75" y1="489.2" x2="443.75" y2="505.5"/>
<line x1="475.4" y1="489.2" x2="475.4" y2="505.5"/>
<text x="475.1" y="522.3">200</text>
<line x1="507.05" y1="489.2" x2="507.05" y2="505.5"/>
<line x1="538.7" y1="489.2" x2="538.7" y2="505.5"/>
<text x="538.4" y="522.3">300</text>
<line x1="570.35" y1="489.2" x2="570.35" y2="505.5"/>
<line x1="602" y1="489.2" x2="602" y2="505.5"/>
<text x="601.7" y="522.3">400</text>
</g>
<svg x="677.6" y="554.25" width="273.5" height="212" viewBox="677.6 554.25 273.5 212">
<g class="h">
<rect x="686.88" y="621.99" width="16.06" height="136.59"/>
<rect x="702.94" y="561.56" width="16.06" height="197.02"/>
<rect x="719" y="661.72" width="16.23" height="96.85"/>
<rect x="735.23" y="724.14" width="15.73" height="34.44"/>
<rect x="750.95" y="742.02" width="15.73" height="16.56"/>
<rect x="766.68" y="748.97" width="16.23" height="9.6"/>
<rect x="782.91" y="754.44" width="15.73" height="4.14"/>
<rect x="798.64" y="756.92" width="16.06" height="1.66"/>
</g>
<path class="d" d="M682.25 758.58C682.8 758.02 684.45 759.13 685.56 755.26C686.66 751.4 687.76 745.61 688.87 735.4C689.97 725.19 691.08 709.18 692.18 694.01C693.28 678.83 694.39 660.89 695.49 644.34C696.59 627.78 697.7 608.47 698.8 594.67C699.91 580.87 701.23 569.28 702.11 561.56C703 553.83 703.41 551.07 704.1 548.31C704.79 545.55 705.53 545 706.25 545C706.97 545 707.71 545.55 708.4 548.31C709.09 551.07 709.37 556.59 710.39 561.56C711.41 566.52 713.15 572.59 714.53 578.11C715.91 583.63 717.15 587.22 718.67 594.67C720.19 602.12 721.98 613.16 723.64 622.81C725.29 632.47 727.08 643.51 728.6 652.62C730.12 661.72 731.36 670.55 732.74 677.45C734.12 684.35 735.36 688.49 736.88 694.01C738.4 699.53 740.33 705.04 741.85 710.56C743.37 716.08 744.88 723.26 745.99 727.12C747.09 730.98 746.95 732.36 748.47 733.74C749.99 735.12 752.89 734.02 755.09 735.4C757.3 736.78 759.51 740.09 761.72 742.02C763.92 743.95 765.85 745.83 768.34 746.99C770.82 748.15 774.41 748.28 776.62 748.97C778.82 749.66 779.79 749.94 781.58 751.13C783.38 752.31 785.17 755.73 787.38 756.09C789.58 756.45 792.48 753.28 794.83 753.28C797.17 753.28 799.24 755.29 801.45 756.09C803.66 756.89 805.87 757.61 808.07 758.08C810.28 758.55 812.21 759.1 814.7 758.91C817.18 758.71 820.21 757.2 822.97 756.92C825.73 756.64 828.77 757.06 831.25 757.25C833.74 757.44 835.39 758.05 837.87 758.08C840.36 758.11 843.12 757.33 846.15 757.42C849.19 757.5 852.77 758.66 856.09 758.58C859.4 758.49 862.98 756.92 866.02 756.92C869.06 756.92 871.26 758.3 874.3 758.58C877.33 758.85 878.16 758.58 884.23 758.58C890.3 758.58 904.51 758.8 910.72 758.58C916.93 758.36 918.17 757.31 921.48 757.25C924.79 757.2 927.97 758.22 930.59 758.25C933.21 758.27 933.9 757.31 937.21 757.42C940.52 757.53 947.7 758.66 950.46 758.91C953.22 759.16 953.22 758.91 953.77 758.91"/>
</svg>
<text class="n" x="945.8" y="584.85"><tspan font-style="italic">N</tspan> = <tspan dx="-2.1">1323</tspan></text>
<g class="t">
<line x1="687.5" y1="766.25" x2="687.5" y2="782.55"/>
<text x="687.2" y="799.35">0</text>
<line x1="750.83" y1="766.25" x2="750.83" y2="782.55"/>
<text x="750.53" y="799.35">20</text>
<line x1="814.16" y1="766.25" x2="814.16" y2="782.55"/>
<text x="813.86" y="799.35">40</text>
<line x1="877.49" y1="766.25" x2="877.49" y2="782.55"/>
<text x="877.19" y="799.35">60</text>
<line x1="940.82" y1="766.25" x2="940.82" y2="782.55"/>
<text x="940.52" y="799.35">80</text>
</g>
<svg x="1016.4" y="831.3" width="273.5" height="212" viewBox="1016.4 831.3 273.5 212">
<g class="h">
<rect x="1026.54" y="839.38" width="23.01" height="196.19"/>
<rect x="1049.55" y="975.15" width="23.01" height="60.43"/>
<rect x="1072.56" y="1001.64" width="23.01" height="33.94"/>
<rect x="1095.58" y="1023.16" width="23.01" height="12.42"/>
<rect x="1118.59" y="1023.99" width="23.01" height="11.59"/>
<rect x="1141.6" y="1033.09" width="23.01" height="2.48"/>
</g>
<path class="d" d="M1013.62 1037.23C1014.12 1036.4 1015.64 1035.02 1016.6 1032.26C1017.57 1029.51 1018.4 1028.13 1019.42 1020.68C1020.44 1013.23 1021.76 998.6 1022.73 987.56C1023.69 976.53 1024.38 965.49 1025.21 954.45C1026.04 943.41 1026.87 932.38 1027.7 921.34C1028.52 910.3 1029.35 899.26 1030.18 888.23C1031.01 877.19 1031.83 863.11 1032.66 855.11C1033.49 847.11 1034.37 843.11 1035.15 840.21C1035.92 837.31 1036.61 837.73 1037.3 837.73C1037.99 837.73 1038.54 838.14 1039.28 840.21C1040.03 842.28 1040.94 845.73 1041.77 850.15C1042.6 854.56 1043.42 860.36 1044.25 866.7C1045.08 873.05 1045.77 880.22 1046.74 888.23C1047.7 896.23 1048.94 906.44 1050.05 914.72C1051.15 922.99 1052.25 930.72 1053.36 937.89C1054.46 945.07 1055.57 952.24 1056.67 957.76C1057.77 963.28 1058.88 967.7 1059.98 971.01C1061.08 974.32 1062.05 976.25 1063.29 977.63C1064.53 979.01 1066.05 979.15 1067.43 979.28C1068.81 979.42 1070.33 978.18 1071.57 978.46C1072.81 978.73 1073.5 979.15 1074.88 980.94C1076.26 982.73 1078.19 985.91 1079.85 989.22C1081.5 992.53 1083.16 997.22 1084.81 1000.81C1086.47 1004.4 1088.13 1007.98 1089.78 1010.74C1091.44 1013.5 1093.09 1015.85 1094.75 1017.36C1096.4 1018.88 1097.78 1019.16 1099.72 1019.85C1101.65 1020.54 1104.13 1020.54 1106.34 1021.5C1108.55 1022.47 1110.75 1024.54 1112.96 1025.64C1115.17 1026.75 1117.38 1027.99 1119.58 1028.13C1121.79 1028.26 1124 1027.16 1126.21 1026.47C1128.41 1025.78 1130.62 1024.18 1132.83 1023.99C1135.04 1023.79 1137.24 1024.21 1139.45 1025.31C1141.66 1026.42 1143.87 1029.12 1146.07 1030.61C1148.28 1032.1 1149.94 1033.7 1152.7 1034.25C1155.45 1034.8 1158.49 1033.7 1162.63 1033.92C1166.77 1034.14 1172.84 1035.58 1177.53 1035.58C1182.22 1035.58 1186.08 1034.11 1190.77 1033.92C1195.47 1033.73 1200.98 1034.25 1205.68 1034.42C1210.37 1034.58 1215.33 1034.91 1218.92 1034.91C1222.51 1034.91 1223.34 1034.31 1227.2 1034.42C1231.06 1034.53 1236.86 1035.38 1242.1 1035.58C1247.34 1035.77 1253.69 1035.77 1258.66 1035.58C1263.62 1035.38 1266.8 1034.36 1271.9 1034.42C1277.01 1034.47 1285.7 1035.66 1289.28 1035.91C1292.87 1036.16 1292.73 1035.91 1293.42 1035.91"/>
</svg>
<text class="n" x="1284.6" y="861.9"><tspan font-style="italic">N</tspan> = <tspan dx="-2.1">524</tspan></text>
<g class="t">
<line x1="1026.54" y1="1043.3" x2="1026.54" y2="1059.6"/>
<text x="1026.24" y="1076.4">0</text>
<line x1="1084.04" y1="1043.3" x2="1084.04" y2="1059.6"/>
<text x="1083.74" y="1076.4">50</text>
<line x1="1141.54" y1="1043.3" x2="1141.54" y2="1059.6"/>
<text x="1141.24" y="1076.4">100</text>
<line x1="1199.04" y1="1043.3" x2="1199.04" y2="1059.6"/>
<text x="1198.74" y="1076.4">150</text>
<line x1="1256.54" y1="1043.3" x2="1256.54" y2="1059.6"/>
<text x="1256.24" y="1076.4">200</text>
</g>
<svg x="1355.2" y="1108.35" width="273.5" height="212" viewBox="1355.2 1108.35 273.5 212">
<g class="h">
<rect x="1365.37" y="1116.38" width="31.62" height="196.19"/>
<rect x="1396.99" y="1294.86" width="31.79" height="17.72"/>
<rect x="1428.78" y="1310.09" width="31.46" height="2.48"/>
</g>
<path class="d" d="M1364.21 1310.92C1364.63 1305.95 1366.01 1294.36 1366.7 1281.12C1367.39 1267.87 1367.8 1250.77 1368.35 1231.45C1368.9 1212.13 1369.59 1184.54 1370.01 1165.23C1370.42 1145.91 1370.64 1126.59 1370.83 1115.56C1371.03 1104.52 1369.98 1101.76 1371.17 1099C1372.35 1096.24 1376.68 1094.86 1377.95 1099C1379.22 1103.14 1378.45 1118.04 1378.78 1123.83C1379.11 1129.63 1379.47 1132.39 1379.94 1133.77C1380.41 1135.15 1381.18 1135.15 1381.6 1132.11C1382.01 1129.08 1382.18 1121.08 1382.42 1115.56C1382.67 1110.04 1382.81 1101.76 1383.09 1099C1383.36 1096.24 1383.78 1093.48 1384.08 1099C1384.38 1104.52 1384.49 1121.08 1384.91 1132.11C1385.32 1143.15 1386.01 1154.19 1386.56 1165.23C1387.11 1176.26 1387.75 1190.06 1388.22 1198.34C1388.69 1206.62 1388.96 1211.72 1389.38 1214.89C1389.79 1218.07 1390.07 1217.38 1390.7 1217.38C1391.34 1217.38 1392.5 1212.55 1393.19 1214.89C1393.88 1217.24 1394.29 1224.55 1394.84 1231.45C1395.39 1238.35 1395.94 1249.94 1396.5 1256.28C1397.05 1262.63 1397.46 1266.22 1398.15 1269.53C1398.84 1272.84 1399.67 1273.94 1400.64 1276.15C1401.6 1278.36 1402.84 1280.02 1403.95 1282.77C1405.05 1285.53 1406.29 1290.36 1407.26 1292.71C1408.22 1295.05 1408.78 1296.3 1409.74 1296.85C1410.71 1297.4 1411.81 1294.78 1413.05 1296.02C1414.29 1297.26 1416.09 1303.47 1417.19 1304.3C1418.3 1305.13 1418.85 1302.78 1419.68 1300.99C1420.5 1299.19 1421.33 1294.5 1422.16 1293.54C1422.99 1292.57 1423.81 1293.4 1424.64 1295.19C1425.47 1296.99 1426.3 1301.81 1427.13 1304.3C1427.95 1306.78 1428.51 1309.54 1429.61 1310.09C1430.71 1310.64 1432.37 1308.49 1433.75 1307.61C1435.13 1306.73 1436.65 1304.79 1437.89 1304.79C1439.13 1304.79 1439.96 1306.31 1441.2 1307.61C1442.44 1308.91 1443.82 1312.16 1445.34 1312.58C1446.86 1312.99 1448.92 1310.42 1450.3 1310.09C1451.68 1309.76 1452.24 1311 1453.62 1310.59C1455 1310.18 1457.07 1308.05 1458.58 1307.61C1460.1 1307.17 1461.48 1307.44 1462.72 1307.94C1463.96 1308.44 1464.93 1309.82 1466.03 1310.59C1467.14 1311.36 1468.1 1312.25 1469.34 1312.58C1470.59 1312.91 1469.21 1312.58 1473.48 1312.58C1477.76 1312.58 1483.14 1312.58 1495.01 1312.58C1506.87 1312.58 1528.12 1312.58 1544.68 1312.58C1561.23 1312.58 1584.82 1312.58 1594.34 1312.58C1603.86 1312.58 1600.08 1312.71 1601.79 1312.58C1603.51 1312.44 1603.51 1312.3 1604.61 1311.75C1605.71 1311.2 1607.09 1309.26 1608.42 1309.26C1609.74 1309.26 1611.04 1311.2 1612.56 1311.75C1614.07 1312.3 1616.7 1312.44 1617.52 1312.58"/>
</svg>
<text class="n" x="1623.4" y="1138.95"><tspan font-style="italic">N</tspan> = <tspan dx="-2.1">446</tspan></text>
<g class="t">
<line x1="1365.37" y1="1320.35" x2="1365.37" y2="1336.65"/>
<text x="1365.07" y="1353.45">0</text>
<line x1="1428.67" y1="1320.35" x2="1428.67" y2="1336.65"/>
<text x="1428.37" y="1353.45">20</text>
<line x1="1491.97" y1="1320.35" x2="1491.97" y2="1336.65"/>
<text x="1491.67" y="1353.45">40</text>
<line x1="1555.27" y1="1320.35" x2="1555.27" y2="1336.65"/>
<text x="1554.97" y="1353.45">60</text>
<line x1="1618.57" y1="1320.35" x2="1618.57" y2="1336.65"/>
<text x="1618.27" y="1353.45">80</text>
</g>
<svg x="1694" y="1385.4" width="273.5" height="212" viewBox="1694 1385.4 273.5 212">
<g class="h">
<rect x="1704.05" y="1393.36" width="31.62" height="195.79"/>
<rect x="1735.67" y="1532.76" width="31.78" height="56.39"/>
<rect x="1767.44" y="1560.33" width="31.15" height="28.82"/>
<rect x="1798.6" y="1575.91" width="31.93" height="13.24"/>
<rect x="1830.53" y="1584.94" width="31.62" height="4.21"/>
<rect x="1862.15" y="1588.84" width="31.93" height="0.31"/>
<rect x="1894.08" y="1585.1" width="31.93" height="4.05"/>
<rect x="1926.01" y="1587.28" width="31.93" height="1.87"/>
</g>
<path class="d" d="M1689.25 1540.55C1690.03 1537.18 1692.62 1526.79 1693.92 1520.3C1695.22 1513.81 1696 1506.8 1697.04 1501.61C1698.08 1496.42 1698.98 1493.56 1700.15 1489.15C1701.32 1484.74 1702.75 1479.02 1704.05 1475.13C1705.34 1471.24 1706.77 1468.25 1707.94 1465.79C1709.11 1463.32 1709.89 1461.63 1711.06 1460.33C1712.22 1459.04 1713.65 1457.87 1714.95 1458C1716.25 1458.13 1717.55 1459.29 1718.84 1461.11C1720.14 1462.93 1721.44 1466.04 1722.74 1468.9C1724.04 1471.76 1725.2 1474.61 1726.63 1478.25C1728.06 1481.88 1729.75 1486.55 1731.31 1490.71C1732.86 1494.86 1734.42 1499.27 1735.98 1503.17C1737.54 1507.06 1739.09 1510.83 1740.65 1514.07C1742.21 1517.32 1743.77 1520.17 1745.32 1522.64C1746.88 1525.1 1748.18 1526.92 1750 1528.87C1751.81 1530.82 1753.63 1532.37 1756.23 1534.32C1758.82 1536.27 1762.46 1538.47 1765.57 1540.55C1768.69 1542.63 1771.54 1544.45 1774.92 1546.78C1778.29 1549.12 1782.19 1552.23 1785.82 1554.57C1789.46 1556.91 1792.83 1558.59 1796.73 1560.8C1800.62 1563.01 1805.03 1565.6 1809.19 1567.81C1813.34 1570.02 1817.75 1572.28 1821.65 1574.04C1825.54 1575.81 1828.92 1577.1 1832.55 1578.4C1836.19 1579.7 1839.56 1580.82 1843.45 1581.83C1847.35 1582.84 1851.24 1583.7 1855.92 1584.48C1860.59 1585.26 1866.3 1585.88 1871.49 1586.5C1876.68 1587.12 1882.91 1587.83 1887.07 1588.21C1891.22 1588.6 1893.04 1588.86 1896.41 1588.84C1899.79 1588.81 1903.16 1588.5 1907.32 1588.06C1911.47 1587.62 1916.92 1586.63 1921.34 1586.19C1925.75 1585.75 1929.12 1585.54 1933.8 1585.41C1938.47 1585.28 1945.22 1585.31 1949.37 1585.41C1953.53 1585.52 1955.66 1585.72 1958.72 1586.03C1961.78 1586.35 1965.68 1587.02 1967.75 1587.28C1969.83 1587.54 1970.61 1587.54 1971.18 1587.59"/>
</svg>
<text class="n" x="1962.2" y="1416"><tspan font-style="italic">N</tspan> = <tspan dx="-2.1">137</tspan></text>
<g class="t">
<line x1="1751.24" y1="1597.4" x2="1751.24" y2="1613.7"/>
<text x="1750.94" y="1630.5">5</text>
<line x1="1830.64" y1="1597.4" x2="1830.64" y2="1613.7"/>
<text x="1830.34" y="1630.5">10</text>
<line x1="1910.04" y1="1597.4" x2="1910.04" y2="1613.7"/>
<text x="1909.74" y="1630.5">15</text>
</g>
<g class="b">
<rect x="338.8" y="277.2" width="273.5" height="212"/>
<rect x="677.6" y="277.2" width="273.5" height="212"/>
<rect x="1016.4" y="277.2" width="273.5" height="212"/>
<rect x="1355.2" y="277.2" width="273.5" height="212"/>
<rect x="1694" y="277.2" width="273.5" height="212"/>
<rect x="338.8" y="554.25" width="273.5" height="212"/>
<rect x="677.6" y="554.25" width="273.5" height="212"/>
<rect x="1016.4" y="554.25" width="273.5" height="212"/>
<rect x="1355.2" y="554.25" width="273.5" height="212"/>
<rect x="1694" y="554.25" width="273.5" height="212"/>
<rect x="338.8" y="831.3" width="273.5" height="212"/>
<rect x="677.6" y="831.3" width="273.5" height="212"/>
<rect x="1016.4" y="831.3" width="273.5" height="212"/>
<rect x="1355.2" y="831.3" width="273.5" height="212"/>
<rect x="1694" y="831.3" width="273.5" height="212"/>
<rect x="338.8" y="1108.35" width="273.5" height="212"/>
<rect x="677.6" y="1108.35" width="273.5" height="212"/>
<rect x="1016.4" y="1108.35" width="273.5" height="212"/>
<rect x="1355.2" y="1108.35" width="273.5" height="212"/>
<rect x="1694" y="1108.35" width="273.5" height="212"/>
<rect x="338.8" y="1385.4" width="273.5" height="212"/>
<rect x="677.6" y="1385.4" width="273.5" height="212"/>
<rect x="1016.4" y="1385.4" width="273.5" height="212"/>
<rect x="1355.2" y="1385.4" width="273.5" height="212"/>
<rect x="1694" y="1385.4" width="273.5" height="212"/>
</g>
</svg>
</body></html>
